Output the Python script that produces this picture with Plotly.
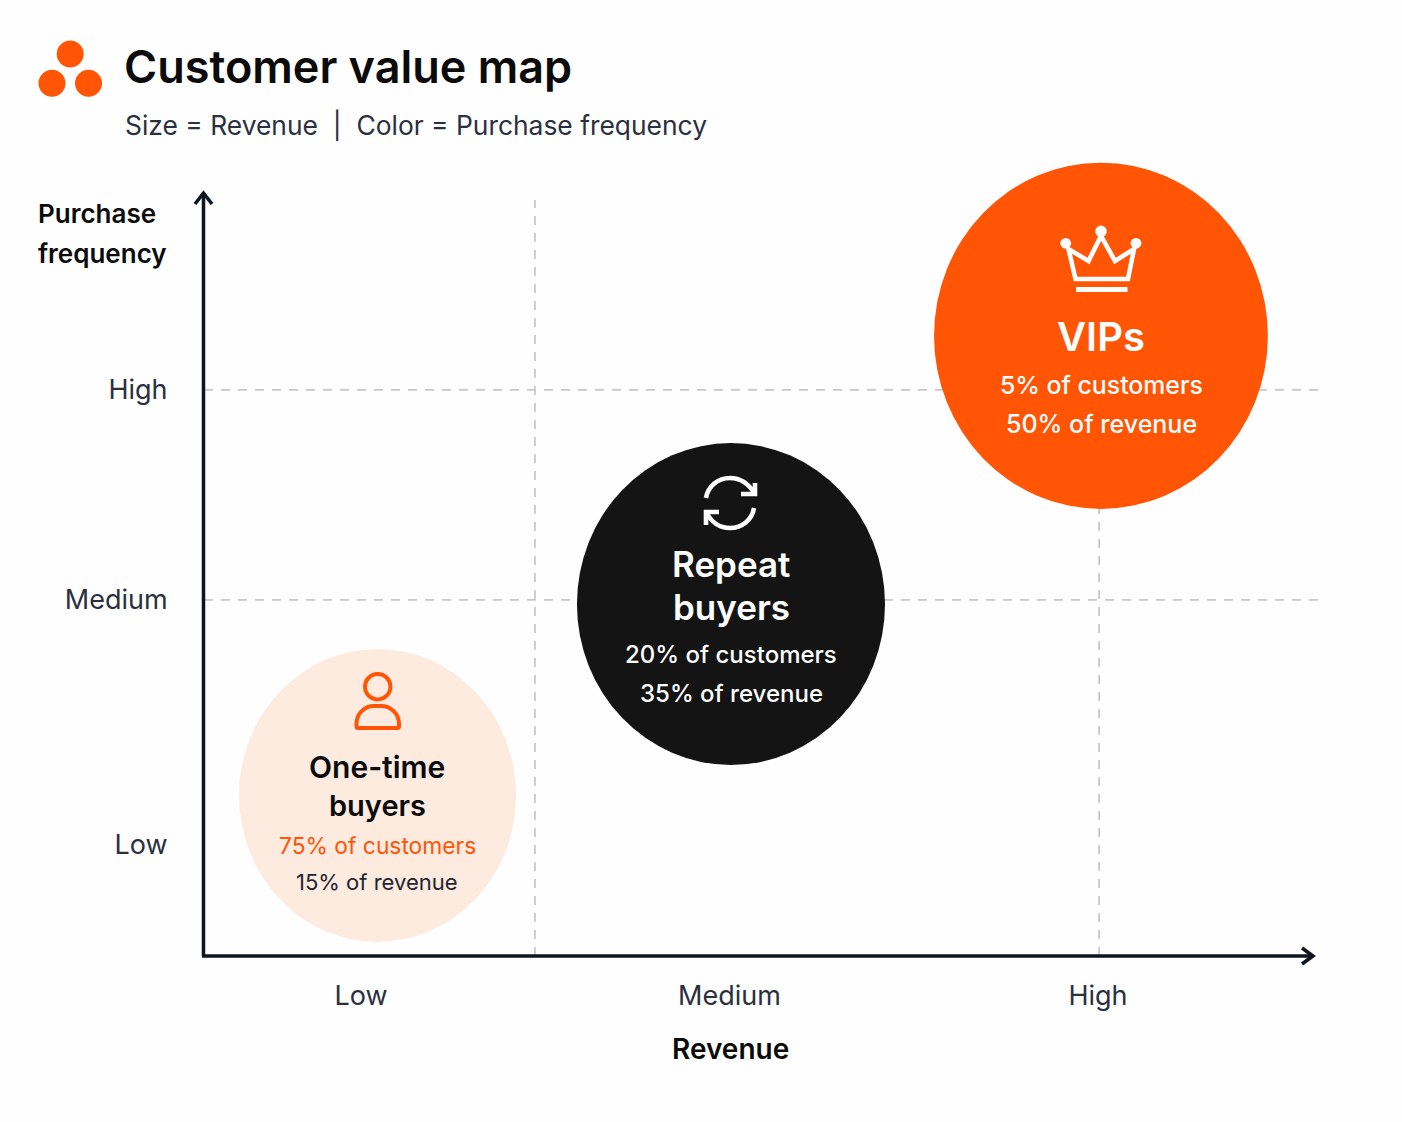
import plotly.graph_objects as go

# ---- data ----
axis_labels = ["Low", "Medium", "High"]
revenue_ticks = [1, 2, 3]
frequency_ticks = [14.6, 46.8, 74.4]
revenue_dividers = [1.472, 3.003]
frequency_grid = [46.8, 74.4]

segments = ["One-time buyers", "Repeat buyers", "VIPs"]
seg_revenue = [1.045, 2.004, 3.008]
seg_frequency = [21.1, 46.25, 81.5]
seg_width = [0.752, 0.836, 0.906]
seg_height = [38.5, 42.3, 45.5]
seg_colors = ["#FDEBE0", "#141414", "#FF5505"]
customers_pct = [75, 20, 5]
revenue_pct = [15, 35, 50]

ORANGE = "#FF5505"
INK = "#0E1422"
FONT = "Inter"

W, H = 1402, 1122
L, R, T, B = 204, 1318, 150, 956
X_UNIT, Y_UNIT = 368.5, 7.61


def px(x):
    return (x - L) / (R - L)


def py(y):
    return (B - y) / (B - T)


def path(cmds):
    out = []
    for c in cmds:
        if isinstance(c, str):
            out.append(c)
        else:
            out.append(f"{px(c[0]):.5f},{py(c[1]):.5f}")
    return " ".join(out)


fig = go.Figure()
fig.add_trace(go.Scatter(
    x=seg_revenue, y=seg_frequency, mode="markers", text=segments,
    marker=dict(size=10, color=seg_colors, opacity=0), hoverinfo="text", showlegend=False,
))

shapes = []
for v in revenue_dividers:
    shapes.append(dict(type="line", xref="x", yref="paper", x0=v, x1=v, y0=0, y1=py(200),
                       line=dict(color="#C8C8C8", width=1.8, dash="9px,8px"), layer="below"))
for v in frequency_grid:
    shapes.append(dict(type="line", xref="paper", yref="y", x0=0, x1=1, y0=v, y1=v,
                       line=dict(color="#C8C8C8", width=1.8, dash="9px,8px"), layer="below"))
for cx, cy, w, h, c in zip(seg_revenue, seg_frequency, seg_width, seg_height, seg_colors):
    shapes.append(dict(type="circle", xref="x", yref="y", x0=cx - w / 2, x1=cx + w / 2,
                       y0=cy - h / 2, y1=cy + h / 2, fillcolor=c, line=dict(width=0)))


def stroke(cmds, color, width=3.5, fill=None):
    s = dict(type="path", xref="paper", yref="paper", path=path(cmds),
             line=dict(color=color, width=width))
    if fill:
        s["fillcolor"] = fill
    return s


def dot(cx, cy, r, color, lw=0, fill=None):
    return dict(type="circle", xref="paper", yref="paper", x0=px(cx - r), x1=px(cx + r),
                y0=py(cy + r), y1=py(cy - r), fillcolor=fill if fill else color,
                line=dict(color=color, width=lw))


# axes with arrows
shapes.append(stroke(["M", (203.5, 956), "L", (203.5, 193)], INK))
shapes.append(stroke(["M", (195, 204), "L", (203.5, 193), "L", (212, 204)], INK))
shapes.append(stroke(["M", (202, 956), "L", (1312, 956)], INK))
shapes.append(stroke(["M", (1302, 948), "L", (1313, 956), "L", (1302, 964)], INK))

# logo
shapes += [dot(70.2, 54, 13.5, ORANGE), dot(52, 83.3, 13.5, ORANGE), dot(88.5, 83.3, 13.5, ORANGE)]

# crown
W_C = "#FFFFFF"
shapes.append(stroke(["M", (1068.5, 249), "L", (1075.5, 279), "L", (1128, 279), "L", (1134, 249),
                      "L", (1115, 261), "L", (1101, 236), "L", (1088.5, 261), "Z"], W_C, 4.6))
shapes.append(stroke(["M", (1076, 289.5), "L", (1127.5, 289.5)], W_C, 5))
shapes += [dot(1065.7, 243.3, 5.4, W_C), dot(1101, 231.3, 5.8, W_C), dot(1136, 243.3, 5.4, W_C)]

# refresh
shapes.append(stroke(["M", (706, 498), "C", (708, 486), (718, 478), (730, 478),
                      "C", (740, 478), (749, 484), (755, 494)], W_C, 4.6))
shapes.append(stroke(["M", (755, 483), "L", (755, 494), "L", (741, 494)], W_C, 4.6))
shapes.append(stroke(["M", (754, 508), "C", (752, 520), (742, 528), (730, 528),
                      "C", (720, 528), (711, 522), (706, 512)], W_C, 4.6))
shapes.append(stroke(["M", (706, 525), "L", (706, 512), "L", (719, 512)], W_C, 4.6))

# person
shapes.append(dict(type="circle", xref="paper", yref="paper", x0=px(365), x1=px(390.4),
                   y0=py(699.4), y1=py(674), line=dict(color=ORANGE, width=4)))
shapes.append(stroke(["M", (358, 728), "L", (397.5, 728), "Q", (399, 728), (399, 726), "L", (399, 724),
                      "C", (399, 713), (390, 706), (381, 706), "L", (374, 706),
                      "C", (365, 706), (356.5, 713), (356.5, 724), "L", (356.5, 726),
                      "Q", (356.5, 728), (358, 728), "Z"], ORANGE, 4))

ann = []


def text(x, y, s, size, color, weight=400, anchor="center"):
    ann.append(dict(xref="paper", yref="paper", x=px(x), y=py(y), text=s, showarrow=False,
                    xanchor=anchor, yanchor="middle", align="left" if anchor == "left" else "center",
                    font=dict(family=FONT, size=size, color=color, weight=weight)))


text(122, 67, "Customer value map", 45, "#0B0B0B", 600, "left")
text(122.5, 125, "Size = Revenue  |  Color = Purchase frequency", 26.4, "#2A3040", 400, "left")
text(36, 213, "Purchase", 26, "#0B0B0B", 600, "left")
text(36, 253, "frequency", 26, "#0B0B0B", 600, "left")
text(730.5, 1049, "Revenue", 28, "#0B0B0B", 600)

# One-time
text(377, 767, "One-time", 30, "#0B0B0B", 600)
text(377, 805, "buyers", 29, "#0B0B0B", 600)
text(377, 845, f"{customers_pct[0]}% of customers", 22.8, ORANGE, 400)
text(377, 882, f"{revenue_pct[0]}% of revenue", 22, "#22252E", 400)
# Repeat
text(731, 564, "Repeat", 35, "#FFFFFF", 600)
text(731, 607, "buyers", 35, "#FFFFFF", 600)
text(731, 654, f"{customers_pct[1]}% of customers", 24, "#FFFFFF", 500)
text(731, 693, f"{revenue_pct[1]}% of revenue", 24, "#FFFFFF", 500)
# VIPs
text(1101, 336, "VIPs", 40, "#FFFFFF", 600)
text(1101, 385, f"{customers_pct[2]}% of customers", 24.8, "#FFFFFF", 500)
text(1101, 424, f"{revenue_pct[2]}% of revenue", 25, "#FFFFFF", 500)

x_lo = 1 + (L - 361) / X_UNIT
x_hi = 1 + (R - 361) / X_UNIT
y_hi = (B - T) / Y_UNIT

fig.update_layout(
    width=W, height=H, autosize=False,
    margin=dict(l=L, r=W - R, t=T, b=H - B, pad=0),
    paper_bgcolor="#FEFEFE", plot_bgcolor="rgba(0,0,0,0)",
    shapes=shapes, annotations=ann, showlegend=False,
    font=dict(family=FONT),
    xaxis=dict(range=[x_lo, x_hi], tickmode="array", tickvals=revenue_ticks, ticktext=axis_labels,
               showgrid=False, zeroline=False, showline=False, ticks="outside", ticklen=16,
               tickcolor="rgba(0,0,0,0)", tickfont=dict(family=FONT, size=27, color="#2A3040")),
    yaxis=dict(range=[0, y_hi], tickmode="array", tickvals=frequency_ticks, ticktext=axis_labels,
               showgrid=False, zeroline=False, showline=False, ticks="outside", ticklen=30,
               tickcolor="rgba(0,0,0,0)", tickfont=dict(family=FONT, size=27, color="#2A3040")),
)

fig.write_html("out.html", config={"displayModeBar": False},
               post_script="document.body.style.margin='0';document.body.style.overflow='hidden';")
